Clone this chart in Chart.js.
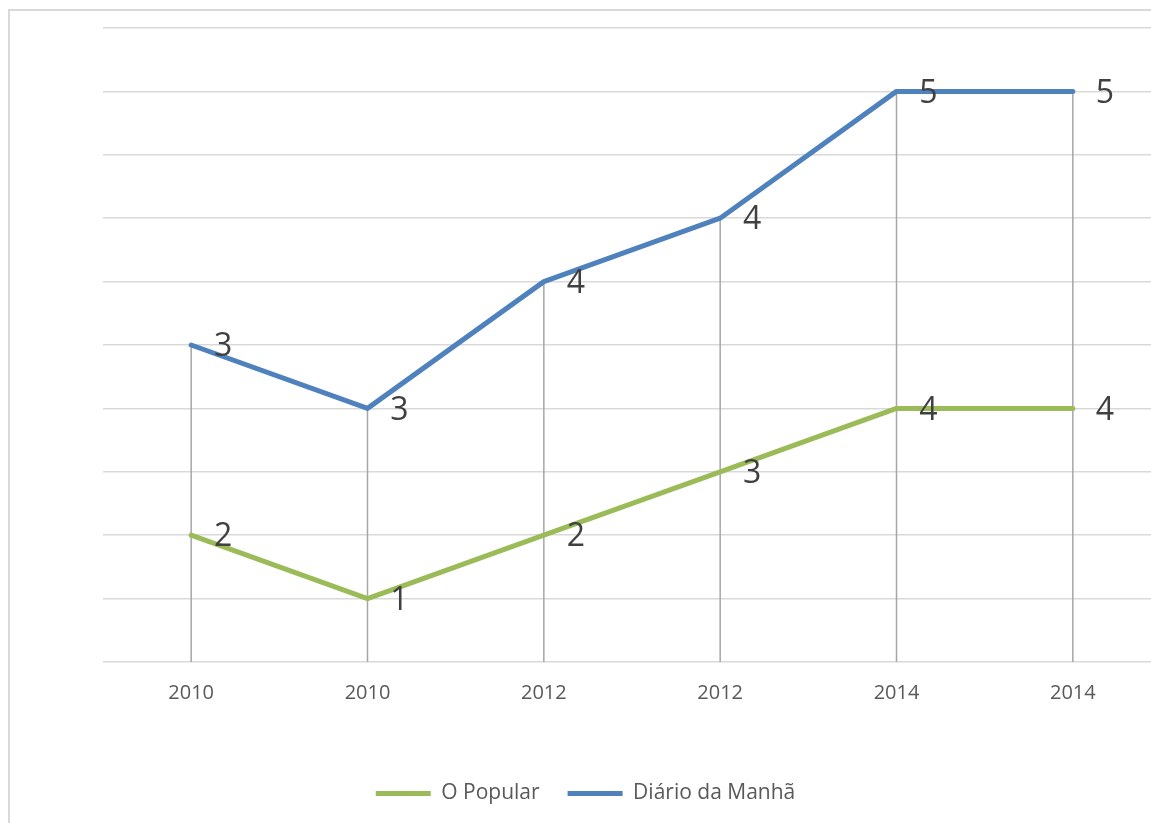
<!DOCTYPE html>
<html>
<head>
<meta charset="utf-8">
<script src="https://cdn.jsdelivr.net/npm/chart.js@4.4.0/dist/chart.umd.min.js"></script>
<style>
  html, body { margin: 0; padding: 0; background: #fff; width: 1151px; height: 823px; overflow: hidden; }
  #wrap { position: absolute; left: 8px; top: 9px; border: 2px solid #d9d9d9; width: 1160px; height: 840px; }
  #c { position: absolute; left: 0; top: 0; }
</style>
</head>
<body>
<div id="wrap"><canvas id="c" width="1151" height="803"></canvas></div>
<script>
const categories = ['2010', '2010', '2012', '2012', '2014', '2014'];
const oPopular = [2, 1, 2, 3, 4, 4];
const diarioDaManha = [3, 3, 4, 4, 5, 5];
const seriesNames = ['O Popular', 'Diário da Manhã'];

const FONT = "'Open Sans', 'Noto Sans', sans-serif";

const dropLines = {
  id: 'dropLines',
  beforeDatasetsDraw(chart) {
    const ctx = chart.ctx;
    const metas = chart.getSortedVisibleDatasetMetas();
    const top = metas[metas.length - 1];
    const bottom = chart.chartArea.bottom;
    ctx.save();
    ctx.strokeStyle = '#a6a6a6';
    ctx.lineWidth = 1.5;
    top.data.forEach(pt => {
      ctx.beginPath();
      ctx.moveTo(pt.x, pt.y);
      ctx.lineTo(pt.x, bottom);
      ctx.stroke();
    });
    ctx.restore();
  }
};

const dataLabels = {
  id: 'dataLabels',
  afterDatasetsDraw(chart) {
    const ctx = chart.ctx;
    ctx.save();
    ctx.font = "32px " + FONT;
    ctx.fillStyle = '#404040';
    ctx.textAlign = 'center';
    ctx.textBaseline = 'middle';
    chart.data.datasets.forEach((ds, i) => {
      const meta = chart.getDatasetMeta(i);
      meta.data.forEach((pt, j) => {
        ctx.fillText(String(ds.data[j]), pt.x + 32, pt.y + 2);
      });
    });
    ctx.restore();
  }
};

new Chart(document.getElementById('c'), {
  type: 'line',
  data: {
    labels: categories,
    datasets: [
      {
        label: seriesNames[0],
        data: oPopular,
        borderColor: '#9bbb59',
        backgroundColor: '#9bbb59',
        borderWidth: 5,
        pointRadius: 0,
        borderCapStyle: 'round',
        borderJoinStyle: 'round',
        tension: 0,
        fill: false
      },
      {
        label: seriesNames[1],
        data: diarioDaManha,
        borderColor: '#4f81bd',
        backgroundColor: '#4f81bd',
        borderWidth: 5,
        pointRadius: 0,
        borderCapStyle: 'round',
        borderJoinStyle: 'round',
        tension: 0,
        fill: false
      }
    ]
  },
  options: {
    responsive: false,
    animation: false,
    devicePixelRatio: 1,
    layout: { padding: { left: 0, right: 0, top: 17, bottom: 0 } },
    scales: {
      x: {
        offset: true,
        grid: { display: false, drawTicks: false },
        border: { display: false },
        ticks: { color: '#595959', font: { family: FONT, size: 20 }, padding: 19 },
        afterFit(scale) { scale.height = 93; }
      },
      y: {
        stacked: true,
        min: 0,
        max: 10,
        ticks: { display: false, stepSize: 1 },
        grid: { color: '#d9d9d9', lineWidth: 1.5, drawTicks: false },
        border: { display: false },
        afterFit(scale) { scale.width = 93; }
      }
    },
    plugins: {
      tooltip: { enabled: false },
      legend: {
        position: 'bottom',
        labels: {
          usePointStyle: true,
          pointStyle: 'line',
          pointStyleWidth: 55,
          color: '#595959',
          font: { family: FONT, size: 21 },
          padding: 28
        }
      }
    }
  },
  plugins: [dropLines, dataLabels]
});
</script>
</body>
</html>
